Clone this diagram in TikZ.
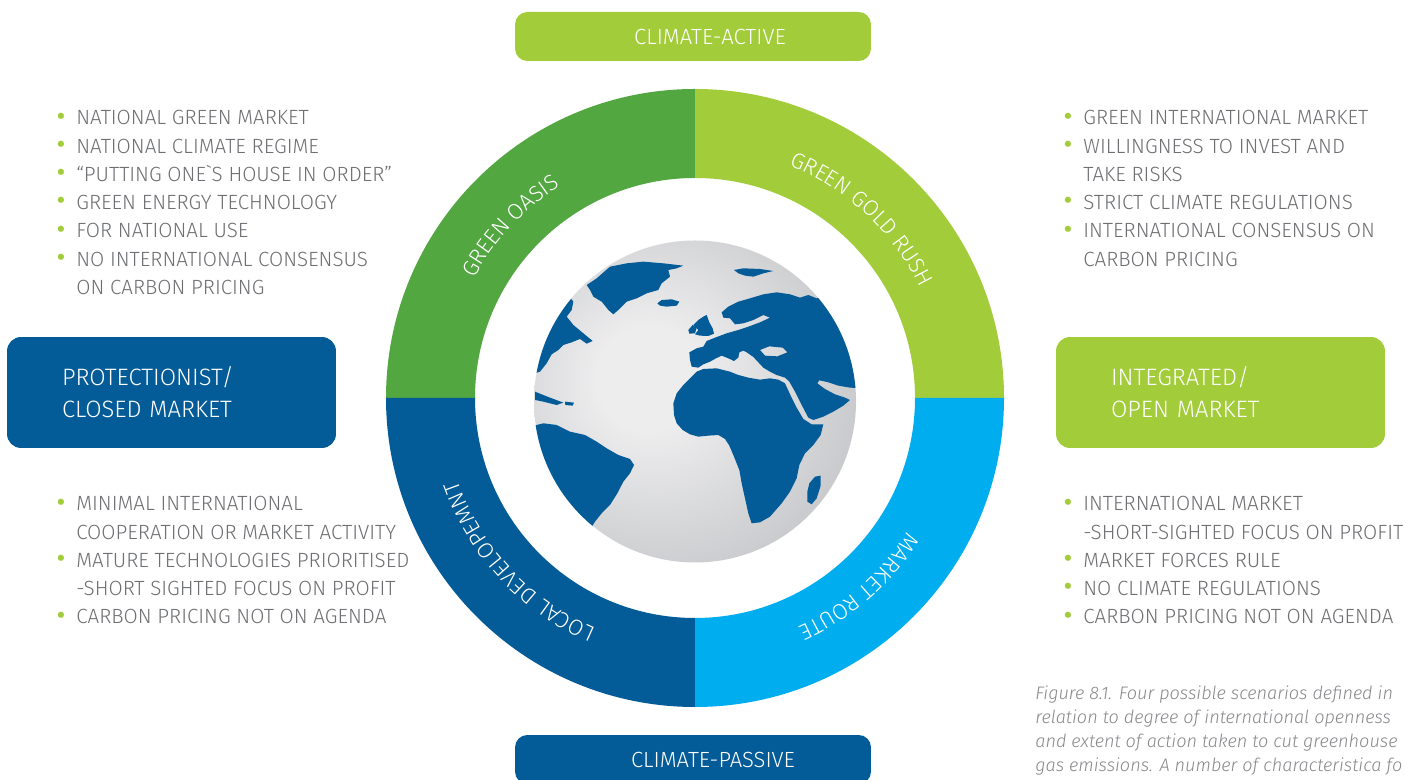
\documentclass[tikz,border=0pt]{standalone}
\usepackage{fontspec}
\usepackage{graphicx}
\setmainfont{Fira Sans}[UprightFont=* Light, ItalicFont=* Light Italic]
\usetikzlibrary{decorations.text,positioning}
\definecolor{azul}{RGB}{3,91,151}
\definecolor{celeste}{RGB}{0,174,239}
\definecolor{verde}{RGB}{82,167,64}
\definecolor{lima}{RGB}{162,204,58}
\definecolor{grist}{RGB}{110,111,114}
\definecolor{grisc}{RGB}{135,136,139}
\definecolor{grisl}{RGB}{237,237,238}
\definecolor{grisg}{RGB}{158,160,165}
% globe: light spot a little left of centre
\pgfdeclareradialshading{globo}{\pgfpoint{-8bp}{4bp}}{color(0bp)=(grisl); color(8bp)=(grisl); color(58bp)=(grisg); color(80bp)=(grisg)}
\newcommand{\vin}{\makebox[3.2mm][l]{\hspace*{-0.9mm}\textcolor{lima}{\raisebox{-0.25em}{\scalebox{2}{\textbullet}}}}}
\newcommand{\sig}{\hspace*{3.2mm}}
\tikzset{
  eje/.style={rounded corners=7pt, text=white, font=\fontsize{12.5}{15}\selectfont, minimum width=71.2mm, minimum height=9.8mm, inner sep=0pt},
  mercado/.style={rounded corners=8pt, text=white, font=\fontsize{13.5}{18.1}\selectfont, align=left, text width=43.8mm, inner xsep=11mm, minimum height=22.2mm},
  lista/.style={anchor=north west, inner sep=0pt, align=left, text=grist, font=\fontsize{11.7}{16.07}\selectfont},
  nota/.style={anchor=north west, inner sep=0pt, align=left, text=grisc, font=\fontsize{10.3}{13.6}\selectfont\itshape},
  rotulo/.style={decorate, decoration={text along path, text align=center, text color=white, text={|\fontsize{12.6}{13}\selectfont|#1}}},
}

\begin{document}
\begin{tikzpicture}[x=0.02cm, y=0.02cm]
  \path[use as bounding box, fill=white] (0,0) rectangle (1405,780);
  \coordinate (C) at (695,382);
  \coordinate (G) at (695,378.5);

  % four scenario quarters of the ring
  \foreach \ini/\col in {90/verde, 0/lima, 180/azul, 270/celeste}
    \fill[\col] ([shift={(\ini:309)}]C) arc[start angle=\ini, end angle=\ini+90, radius=309]
      -- ([shift={(\ini+90:220)}]C) arc[start angle=\ini+90, end angle=\ini, radius=220] -- cycle;

  \path[rotulo={GREEN OASIS}] ([shift={(187:251)}]C) arc[start angle=187, end angle=87, radius=251];
  \path[rotulo={GREEN GOLD RUSH}] ([shift={(97:251)}]C) arc[start angle=97, end angle=-3, radius=251];
  \path[rotulo={LOCAL DEVELOPEMNT}] ([shift={(-87:251)}]C) arc[start angle=-87, end angle=-187, radius=251];
  \path[rotulo={MARKET ROUTE}] ([shift={(1:251)}]C) arc[start angle=1, end angle=-99, radius=251];

  % globe
  \shade[shading=globo] (G) circle[radius=161];
  \begin{scope}[shift={(530,545)}, xscale=1/3, yscale=-1/3]
    \clip (495,500) circle[radius=483];
    % Greenland, Iceland, Svalbard
    \fill[azul] plot coordinates {(170,150) (200,130) (240,95) (290,85) (340,80) (400,85) (460,92) (440,100) (415,105) (420,125) (395,145) (385,165) (350,175) (320,190) (290,200) (265,225) (250,238) (235,225) (215,200) (190,185) (180,165)} -- cycle;
    \fill[azul] plot coordinates {(382,205) (395,195) (425,193) (448,200) (440,212) (410,215) (390,212)} -- cycle;
    \fill[azul] plot coordinates {(612,105) (640,100) (690,102) (730,108) (700,115) (670,125) (645,122) (625,115)} -- cycle;
    % the Americas
    \fill[azul] plot coordinates {(115,180) (130,200) (125,225) (110,245) (130,270) (160,295) (188,318) (170,326) (150,312) (125,322) (100,330) (85,345) (65,358) (50,385) (30,410) (0,420) (0,150)} -- cycle;
    \fill[azul] plot coordinates {(15,470) (60,488) (100,503) (80,510) (40,500) (15,495)} -- cycle;
    \fill[azul] plot coordinates {(105,500) (132,503) (128,512) (106,510)} -- cycle;
    \fill[azul] plot coordinates {(0,575) (40,565) (80,570) (120,590) (165,600) (200,620) (230,640) (265,660) (300,672) (312,690) (300,715) (280,740) (262,775) (240,810) (215,835) (195,860) (170,900) (0,900)} -- cycle;
    % British Isles
    \fill[azul] plot coordinates {(490,270) (505,255) (520,245) (530,240) (538,262) (548,280) (552,296) (535,303) (510,302) (495,298) (505,285)} -- cycle;
    \fill[azul] plot coordinates {(475,285) (488,270) (500,278) (495,295) (478,296)} -- cycle;
    % Eurasia with Arabia, Black Sea left open
    \fill[azul, even odd rule] plot coordinates {(478,352) (500,340) (520,335) (530,318) (555,308) (590,295) (625,285) (655,275) (690,262) (720,248) (700,240) (670,255) (640,265) (615,268) (600,250) (580,248) (575,232) (595,215) (625,200) (660,190) (700,178) (740,172) (780,178) (810,188) (835,180) (860,190) (1010,160) (1010,460) (960,458) (925,452) (895,442) (868,436) (862,445) (885,462) (915,478) (945,488) (960,495) (940,512) (910,530) (880,545) (850,555) (835,548) (815,510) (795,470) (778,440) (765,428) (740,420) (720,410) (700,398) (685,382) (670,366) (650,352) (640,347) (628,352) (625,368) (612,378) (595,370) (575,362) (558,370) (540,380) (520,388) (505,398) (485,395) (480,375)} -- cycle
      plot coordinates {(690,345) (718,334) (758,338) (772,352) (742,364) (705,362)} -- cycle;
    % Africa and Madagascar
    \fill[azul] plot coordinates {(430,505) (440,475) (460,450) (485,425) (500,410) (520,402) (560,400) (600,410) (625,420) (655,428) (690,434) (720,430) (745,434) (765,445) (782,482) (800,518) (820,552) (845,568) (880,568) (872,600) (850,630) (825,655) (808,690) (800,730) (780,770) (755,805) (720,845) (690,862) (665,865) (655,835) (645,790) (635,745) (628,705) (612,665) (598,632) (585,612) (565,600) (535,602) (505,605) (480,598) (458,585) (440,565) (432,540)} -- cycle;
    \fill[azul] plot coordinates {(838,745) (855,725) (872,722) (872,752) (860,790) (845,808) (832,800) (832,770)} -- cycle;
  \end{scope}

  % axis labels
  \node[eje, fill=lima] (activo) at (693,743.5) {\hspace*{6.8mm}CLIMATE-ACTIVE};
  \node[eje, fill=azul] (pasivo) at (693,20.5) {\hspace*{8mm}CLIMATE-PASSIVE};
  \node[mercado, fill=azul] (cerrado) at (171.5,387.5) {PROTECTIONIST/\\ CLOSED MARKET};
  \node[mercado, fill=lima] (abierto) at (1220.5,387.5) {INTEGRATED/\\ OPEN MARKET};

  % characteristics of each scenario
  \node[lista] (oasis) at (60,669.7) {\vin NATIONAL GREEN MARKET\\ \vin NATIONAL CLIMATE REGIME\\
    \vin “PUTTING ONE\textasciigrave S HOUSE IN ORDER”\\ \vin GREEN ENERGY TECHNOLOGY\\
    \vin FOR NATIONAL USE\\ \vin NO INTERNATIONAL CONSENSUS\\ \sig ON CARBON PRICING};
  \node[lista] (fiebre) at (1067,669.7) {\vin GREEN INTERNATIONAL MARKET\\ \vin WILLINGNESS TO INVEST AND\\
    \sig TAKE RISKS\\ \vin STRICT CLIMATE REGULATIONS\\ \vin INTERNATIONAL CONSENSUS ON\\ \sig CARBON PRICING};
  \node[lista] (local) at (60,283.7) {\vin MINIMAL INTERNATIONAL\\ \sig COOPERATION OR MARKET ACTIVITY\\
    \vin MATURE TECHNOLOGIES PRIORITISED\\ \sig -SHORT SIGHTED FOCUS ON PROFIT\\ \vin CARBON PRICING NOT ON AGENDA};
  \node[lista] (ruta) at (1067,283.7) {\vin INTERNATIONAL MARKET\\ \sig -SHORT-SIGHTED FOCUS ON PROFIT\\
    \vin MARKET FORCES RULE\\ \vin NO CLIMATE REGULATIONS\\ \vin CARBON PRICING NOT ON AGENDA};

  \node[nota] (pie) at (1035,94.5) {Figure 8.1. Four possible scenarios defined in\\
    relation to degree of international openness\\ and extent of action taken to cut greenhouse\\
    gas emissions. A number of characteristica fo};
\end{tikzpicture}
\end{document}
